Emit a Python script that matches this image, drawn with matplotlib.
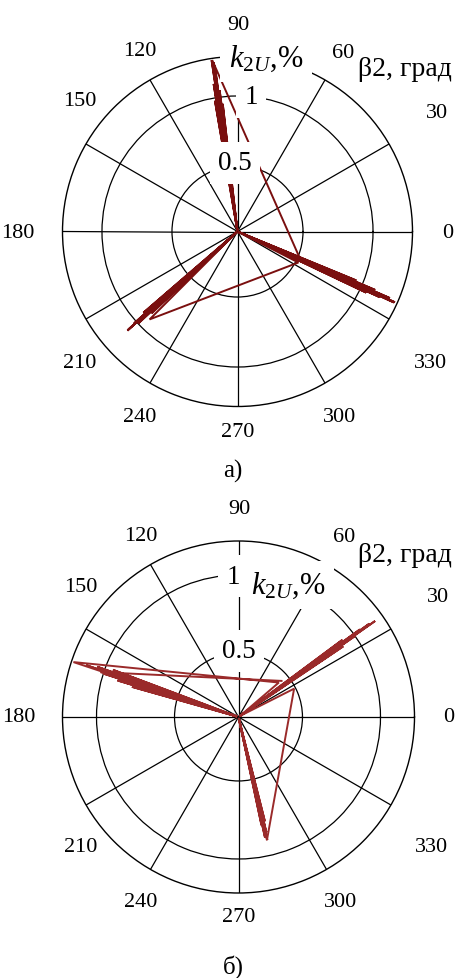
import numpy as np
import matplotlib
matplotlib.use("Agg")
import matplotlib.pyplot as plt

plt.rcParams['font.family'] = ['Liberation Serif', 'DejaVu Serif']
plt.rcParams['mathtext.fontset'] = 'custom'
plt.rcParams['mathtext.rm'] = 'Liberation Serif'
plt.rcParams['mathtext.it'] = 'Liberation Serif:italic'

W, H = 465, 979

# ---- data: angle beta2 (degrees) and k2U (%) ----
# plot а)
beta_a = [98.2, 96.6, 98.3, 97.2, 98.2, 97.8, 98.2, 98.6, 98.2, 99.2, 98.2,
          99.8, 98.2, 98.0, 98.3, 98.4,
          337.5,
          336.0, 334.6, 336.0, 335.2, 336.0, 335.8, 336.0, 336.4, 336.0, 337.0,
          336.0, 337.6, 336.0, 335.6, 336.0,
          333.0,
          225.0,
          222.2, 220.8, 222.2, 221.6, 222.2, 222.0, 222.2, 222.8, 222.2, 223.6,
          222.2, 221.9, 222.2]
k2u_a = [0.04, 0.95, 0.04, 1.05, 0.04, 1.20, 0.04, 1.27, 0.04, 1.10, 0.04,
         0.98, 0.04, 1.25, 0.04, 1.27,
         0.51,
         0.04, 1.05, 0.04, 1.15, 0.04, 1.265, 0.04, 1.22, 0.04, 1.10,
         0.04, 0.95, 0.04, 1.26, 0.04,
         0.52,
         0.92,
         0.04, 0.92, 0.04, 1.02, 0.04, 1.09, 0.04, 1.00, 0.04, 0.88,
         0.04, 1.08, 0.04]

# plot б)
beta_b = [40.0,
          162.0,
          161.8, 159.4, 161.8, 160.4, 161.8, 161.2, 161.8, 162.2, 161.8, 163.2,
          161.8, 164.2, 161.8, 161.6,
          40.5,
          35.3, 34.0, 35.3, 34.8, 35.3, 35.1, 35.3, 35.8, 35.3, 36.6, 35.3,
          35.5, 35.3,
          27.0,
          283.0,
          282.8, 282.0, 282.8, 283.6, 282.8, 283.2, 282.8, 282.4, 282.8, 284.2,
          282.8]
k2u_b = [0.45,
         1.02,
         0.10, 0.95, 0.10, 1.05, 0.10, 1.12, 0.10, 1.00, 0.10, 0.90,
         0.10, 0.80, 0.10, 1.205,
         0.43,
         0.10, 0.90, 0.10, 1.00, 0.10, 1.16, 0.10, 1.05, 0.10, 0.92, 0.10,
         1.12, 0.10,
         0.49,
         0.90,
         0.10, 0.80, 0.10, 0.85, 0.10, 0.90, 0.10, 0.88, 0.10, 0.78,
         0.10]

angle_ticks = list(range(0, 360, 30))
r_ticks = [0.5, 1.0]
r_tick_labels = ['0.5', '1']


def px(x, y):
    return x / W, 1 - y / H


fig = plt.figure(figsize=(W / 100, H / 100), dpi=100)
fig.patch.set_facecolor('white')


def polar_panel(cx, cy, R, rlim, beta, k, color):
    l, b = (cx - R) / W, (H - cy - R) / H
    ax = fig.add_axes([l, b, 2 * R / W, 2 * R / H], projection='polar')
    ax.set_ylim(*rlim)
    ax.set_thetagrids(angle_ticks, labels=[''] * len(angle_ticks))
    ax.set_rgrids(r_ticks, labels=[''] * len(r_ticks))
    ax.grid(True, color='black', lw=0.9, ls='-')
    ax.spines['polar'].set_color('black')
    ax.spines['polar'].set_linewidth(1.0)
    ax.tick_params(length=0)
    ax.plot(np.radians(beta), k, color=color, lw=1.4, zorder=3,
            solid_joinstyle='miter')
    return ax


ax_a = polar_panel(237.5, 232.5, 175, (0.032, 1.282), beta_a, k2u_a, '#7a0f0f')
ax_b = polar_panel(238.5, 718, 176, (0.09, 1.218), beta_b, k2u_b, '#9a2a2a')

wbox = dict(boxstyle='square,pad=0.3', fc='white', ec='none')


def put(x, y, s, size=16, box=False, ha='center', z=5, **kw):
    fig.text(*px(x, y), s, fontsize=size, ha=ha, va='center',
             bbox=wbox if box else None, zorder=z, **kw)


angle_pos_a = {90: (238, 25), 120: (140, 52), 60: (343, 53), 150: (80, 102),
               30: (437, 113), 180: (18, 233), 0: (448, 233), 210: (80, 363),
               330: (430, 363), 240: (140, 418), 300: (340, 418),
               270: (238, 433)}
for ang, (x, y) in angle_pos_a.items():
    put(x, y, str(ang))
    put(x + 1, y + 485, str(ang))

axis_title = r'$k_{2U}$,%'

# radial labels а)
put(251, 98, r_tick_labels[1], size=19.5, box=True)
put(235, 164, r_tick_labels[0], size=19.5, box=True)
put(266, 59, axis_title, size=22, box=True)
put(405, 70, 'β2, град', size=20)
put(233, 471, 'а)', size=18)

# radial labels б)
put(233, 577, r_tick_labels[1], size=19.5, box=True)
put(238.5, 652, r_tick_labels[0], size=19.5, box=True)
put(288, 586, axis_title, size=22, box=True)
put(405, 555, 'β2, град', size=20)
put(233, 967, 'б)', size=18)

fig.savefig('out.png', dpi=100, facecolor='white')
